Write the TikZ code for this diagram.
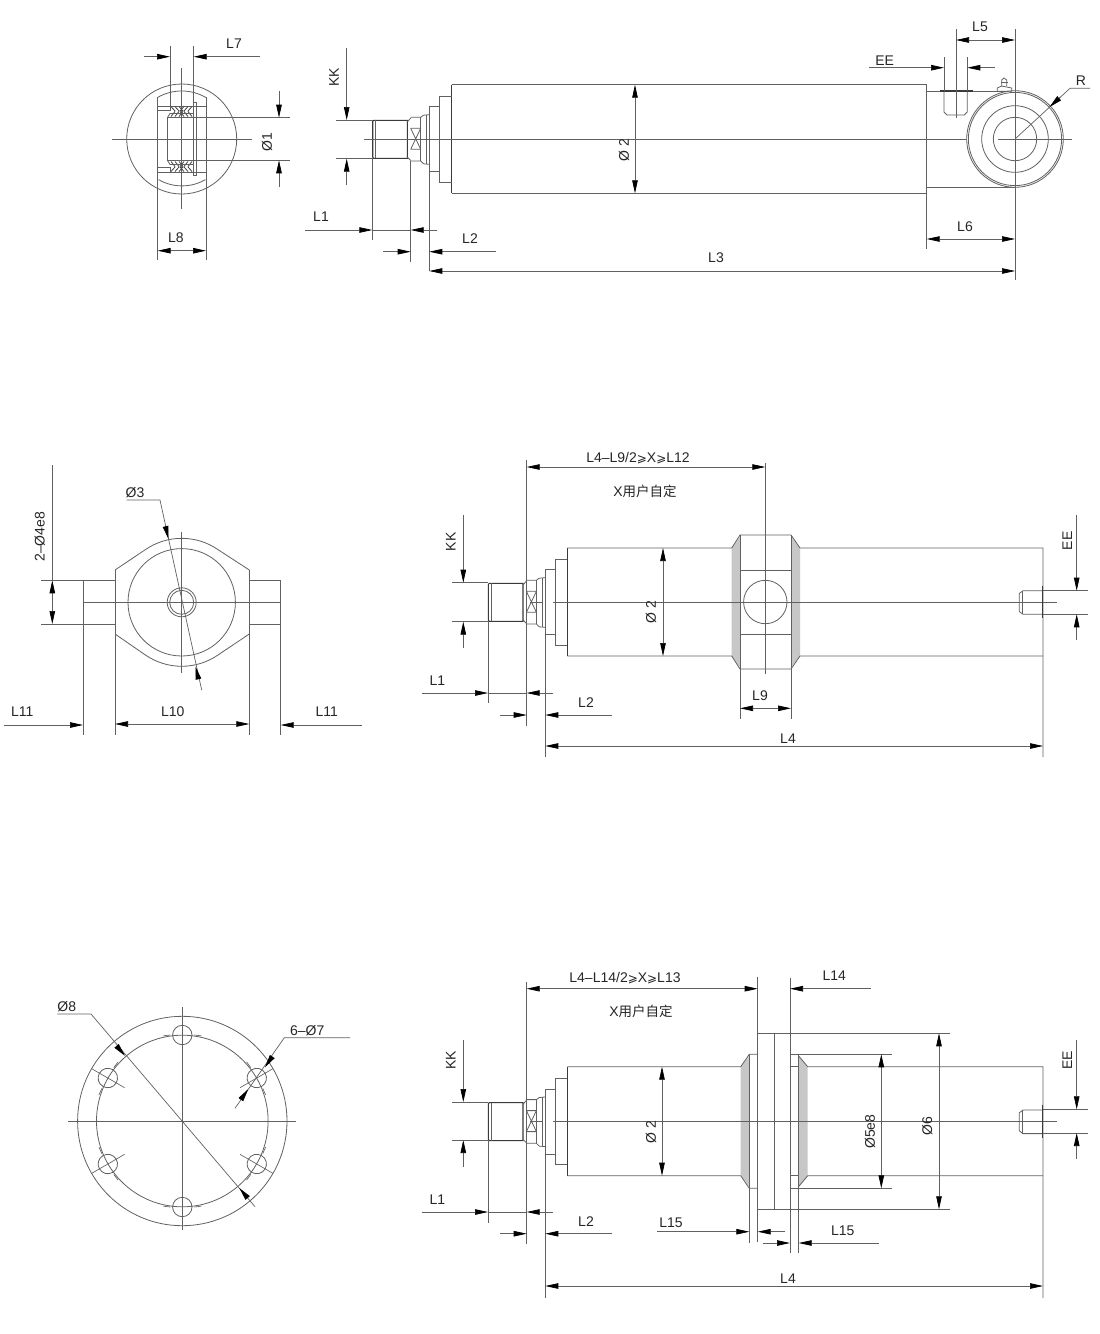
\documentclass[tikz,border=0pt]{standalone}
\usepackage{fontspec}
\setmainfont{Liberation Sans}
\newfontfamily\cjkfont{Noto Sans CJK SC}
\newfontfamily\mathsymfont{DejaVu Sans}
\usetikzlibrary{arrows.meta}
\definecolor{ln}{gray}{0.38}
\definecolor{txt}{gray}{0.15}
\definecolor{band}{gray}{0.78}
\tikzset{
  part/.style={draw=ln,line width=.8pt},
  heavy/.style={draw=ln!60!black,line width=1.3pt},
  thin line/.style={draw=ln,line width=.65pt},
  dimline/.style={draw=ln,line width=.7pt},
  dimhead/.style={Triangle[length=13pt,width=5.5pt,color=black]},
  dimboth/.style={dimline,{Triangle[length=13pt,width=5.5pt,color=black]}-{Triangle[length=13pt,width=5.5pt,color=black]}},
  dimend/.style={dimline,-{Triangle[length=13pt,width=5.5pt,color=black]}},
  lab/.style={text=txt,inner sep=0pt,font=\fontsize{14}{16}\selectfont},
  labv/.style={lab,rotate=90},
}
\newcommand{\gez}{{\mathsymfont\fontsize{12}{14}\selectfont ⩾}}
% rod end, in the coordinates of the upper view
\newcommand{\rodend}{%
  \draw[heavy] (451.5,84.7) -- (451.5,193.3);
  \draw[part] (439.3,96) -- (451.5,96) (439.3,182.3) -- (451.5,182.3) (439.3,96) -- (439.3,182.3);
  \draw[part] (429.3,106.7) -- (439.3,106.7) (429.3,171.7) -- (439.3,171.7) (429.3,106.7) -- (429.3,171.7);
  \draw[part] (410.7,117.3) -- (420.7,117.3) -- (423.5,115.2) -- (429.3,114.7);
  \draw[part] (410.7,161) -- (420.7,161) -- (423.5,163.8) -- (429.3,164.3);
  \draw[part] (420.7,117.3) -- (420.7,161) (426.7,115) -- (426.7,164);
  \draw[part] (410.7,128.3) -- (420.7,128.3) (410.7,149.3) -- (420.7,149.3)
              (410.7,128.3) -- (420.7,149.3) (420.7,128.3) -- (410.7,149.3);
  \draw[heavy,line width=1.1pt] (407.3,120.3) -- (373.5,120.3) -- (372.7,121.5) -- (372.7,157) -- (373.5,158.3) -- (407.3,158.3) -- cycle;
  \draw[part] (375.2,120.3) -- (375.2,158.3);
  \draw[part] (407.3,122) -- (410.7,118) (407.3,157) -- (410.7,160.5);
}
% port on the right end, centred on y=602
\newcommand{\portend}{%
  \draw[part] (1042.3,590.7) -- (1023,590.7) -- (1019.3,593.5) -- (1019.3,611.5) -- (1023,614.3) -- (1042.3,614.3);
  \draw[part] (1022.5,590.7) -- (1022.5,614.3);
  \draw[heavy,line width=1.6pt] (1042.3,585.7) -- (1042.3,618.3);
}
\begin{document}
\begin{tikzpicture}[x=1pt,y=-1pt]
\useasboundingbox (0,0) rectangle (1100,1334);
\fill[white] (0,0) rectangle (1100,1334);

%% ===== top-left end view =====
\draw[part] (181.7,139) circle (55);
\draw[part] (157.7,97.4) arc[start angle=-120,end angle=-60,radius=48];
\draw[part] (158.5,179.6) arc[start angle=120,end angle=60,radius=47];
\draw[thin line] (157.7,97.4) -- (157.7,260) (206,97.4) -- (206,260);
\draw[thin line] (181.7,68) -- (181.7,209) (111.5,139) -- (252,139);
\draw[part] (167.3,117.7) rectangle (196.7,160.3);
\draw[part] (157.7,106) -- (206,106) (157.7,172) -- (206,172);
\draw[part] (157.7,110.7) -- (170,110.7) (157.7,167.3) -- (170,167.3);
\draw[part] (193.7,102.7) rectangle (196,175);
\draw[part] (170,106) -- (170,110.7) (170,167.3) -- (170,172);
\foreach \xx in {171,175,179}{
  \pgfmathsetmacro{\xa}{\xx+4}
  \draw[draw=ln!70!black,line width=.8pt] (\xx,106.5) -- (\xa,111) (\xx,171.5) -- (\xa,167)
     (\xx,116.5) -- (\xa,111.5) (\xx,161.5) -- (\xa,166.5);
}
\foreach \xx in {184,188,192}{
  \pgfmathsetmacro{\xa}{\xx-4}
  \draw[draw=ln!70!black,line width=.8pt] (\xx,106.5) -- (\xa,111) (\xx,171.5) -- (\xa,167)
     (\xx,116.5) -- (\xa,111.5) (\xx,161.5) -- (\xa,166.5);
}
\draw[part] (167.3,117.7) -- (170,113.5) -- (193.7,113.5) (167.3,160.3) -- (170,164.5) -- (193.7,164.5);
\draw[thin line] (170,46) -- (170,106) (193.7,46) -- (193.7,102.7);
\draw[dimend] (143.7,56.7) -- (170,56.7);
\draw[dimend] (260,56.7) -- (193.7,56.7);
\node[lab] (tL7) at (234,44) {L7};
\draw[thin line] (197,117.7) -- (290,117.7) (197,160.3) -- (290,160.3);
\draw[dimend] (279,91) -- (279,117.7);
\draw[dimend] (279,187) -- (279,160.3);
\node[labv] (tD1) at (267,141.7) {Ø1};
\draw[dimboth] (157.7,250.7) -- (206,250.7);
\node[lab] (tL8) at (176,238) {L8};

%% ===== top main view =====
\rodend
\draw[part] (451.5,84.7) -- (926.7,84.7) -- (926.7,249);
\draw[part] (451.5,193.3) -- (926.7,193.3);
\draw[part] (926.7,91) -- (1015,91) (926.7,187) -- (1015,187);
\draw[thin line] (364,139) -- (1072,139);
\fill[white] (1015,139) circle (48.3);
\draw[part] (1015,139) circle (48.3) (1015,139) circle (46.6) (1015,139) circle (33.3) (1015,139) circle (21.7);
\draw[thin line] (998,139) -- (1072,139);
\draw[thin line] (1015,29) -- (1015,280);
% port
\draw[part] (944,91) -- (944,112) -- (947,115) -- (964.3,115) -- (967.3,112) -- (967.3,91);
\draw[heavy] (940,91) -- (972.7,91);
\draw[thin line] (956,29) -- (956,117.7);
\draw[thin line] (944,57) -- (944,91) (967.3,57) -- (967.3,91);
\draw[dimend] (869.3,67.7) -- (944,67.7);
\draw[dimend] (994.7,67.7) -- (967.3,67.7);
\node[lab] (tEEa) at (884.7,61) {EE};
\draw[dimboth] (956,40) -- (1015,40);
\node[lab] (tL5) at (980,27) {L5};
% grease nipple
\draw[part] (997.3,91.2) -- (997.3,88) -- (1001.7,86) -- (1011.7,88) -- (1011.7,91.2) -- cycle;
\draw[part] (1001.7,86) -- (1001.7,80) -- (1004,78) -- (1006.7,80) -- (1006.7,86);
\draw[part] (1001,82.5) -- (1007.5,82.5);
% R leader
\coordinate (Rc) at (1015,139);
\coordinate (Ra) at (1070,88.3);
\draw[dimline] (Rc) -- (Ra) -- (1090,88.3);
\draw[dimend] (1060.5,97) -- (1049.5,107);
\node[lab] (tR) at (1081,80.7) {R};
\draw[dimboth] (926.7,239) -- (1015,239);
\node[lab] (tL6) at (965,226.7) {L6};
\draw[dimboth] (429.3,271) -- (1015,271);
\node[lab] (tL3) at (716,258) {L3};
\draw[dimboth] (635,84.7) -- (635,193.3);
\node[labv] (tD2a) at (624,150) {Ø 2};
% KK
\draw[dimend] (346.7,48) -- (346.7,120);
\draw[dimend] (346.7,185) -- (346.7,158.7);
\draw[thin line] (336,120) -- (372.7,120) (336,158.7) -- (372.7,158.7);
\node[labv] (tKKa) at (334,77) {KK};
% L1 L2
\draw[thin line] (372.3,158.3) -- (372.3,240) (410.7,161) -- (410.7,262) (429.3,171.7) -- (429.3,271);
\draw[dimline] (372.3,230) -- (410.7,230);
\draw[dimend] (305,230) -- (372.3,230);
\draw[dimend] (437,230) -- (410.7,230);
\node[lab] (tL1a) at (321,217) {L1};
\draw[dimend] (383,251.7) -- (410.7,251.7);
\draw[dimend] (496,251.7) -- (429.3,251.7);
\node[lab] (tL2a) at (470,239) {L2};

%% ===== middle left end view =====
\draw[part] (181.7,602.3) circle (53.7);
\draw[part] (181.7,602.3) circle (14.5) (181.7,602.3) circle (12);
\draw[part] (115,570) -- (145,549.9) arc[start angle=-125,end angle=-55,radius=64] -- (249.3,570);
\draw[part] (115,634) -- (145,654.7) arc[start angle=125,end angle=55,radius=64] -- (249.3,634);
\draw[part] (115,570) -- (115,735) (249.3,570) -- (249.3,735);
\draw[part] (41.3,580.3) -- (115,580.3) (41.3,624) -- (115,624);
\draw[part] (249.3,580.3) -- (280.7,580.3) -- (280.7,735) (249.3,624) -- (280.7,624);
\draw[part] (83,580.3) -- (83,735);
\draw[thin line] (83,602.3) -- (280.7,602.3);
\draw[thin line] (181.7,531.7) -- (181.7,672.7);
\draw[dimline] (52.3,465) -- (52.3,580.3);
\draw[dimboth] (52.3,580.3) -- (52.3,624);
\node[labv] (tD4) at (39.7,536.7) {2–Ø4e8};
\coordinate (Da) at (160,500);
\coordinate (Db) at (201.7,690);
\draw[dimline] (126.7,500) -- (Da) -- (Db);
\draw[dimend] (165.6,526.7) -- (168.5,539);
\draw[dimend] (198.2,678) -- (195.5,666.5);
\node[lab] (tD3) at (135,492.7) {Ø3};
\draw[dimboth] (115,724) -- (249.3,724);
\node[lab] (tL10) at (172.7,711.7) {L10};
\draw[dimend] (4,725) -- (83,725);
\node[lab] (tL11a) at (22.3,712) {L11};
\draw[dimend] (361.7,725) -- (280.7,725);
\node[lab] (tL11b) at (326.7,712) {L11};

%% ===== middle main view =====
\begin{scope}[shift={(115.7,463)}]\rodend\end{scope}
\fill[band] (740,536.5) -- (731.7,548) -- (731.7,656) -- (740,667.5) -- cycle;
\fill[band] (791,536.5) -- (800,548) -- (800,656) -- (791,667.5) -- cycle;
\draw[part] (567.3,548) -- (731.7,548) -- (740,535) -- (791,535) -- (800,548) -- (1043,548) -- (1043,757);
\draw[part] (567.3,656) -- (731.7,656) -- (740,669) -- (791,669) -- (800,656) -- (1043,656);
\draw[part] (740,535) -- (740,718.7) (791,535) -- (791,718.7);
\draw[part] (740,570) -- (791,570) (740,634.7) -- (791,634.7);
\draw[part] (765.3,602) circle (21.7);
\draw[thin line] (553,602) -- (1056.7,602) (530,602) -- (543,602);
\draw[thin line] (765.3,463) -- (765.3,674.3);
\portend
\draw[thin line] (526.7,460) -- (526.7,725.7) (545.3,635) -- (545.3,757) (488,621) -- (488,703);
\draw[dimboth] (526.7,467) -- (765.3,467);
\node[lab] (tXa) at (638,458) {L4–L9/2\gez X\gez L12};
\node[lab] (tXb) at (645,491) {X{\cjkfont\fontsize{13.5}{15}\selectfont 用户自定}};
\draw[dimend] (463.3,515) -- (463.3,582.7);
\draw[dimend] (463.3,648) -- (463.3,621.7);
\draw[thin line] (452.3,582.7) -- (488.3,582.7) (452.3,621.7) -- (488.3,621.7);
\node[labv] (tKKb) at (450.7,541.7) {KK};
\draw[dimline] (488,693) -- (526.7,693);
\draw[dimend] (421.7,693) -- (488,693);
\draw[dimend] (553.3,693) -- (526.7,693);
\node[lab] (tL1b) at (437.3,680.7) {L1};
\draw[dimend] (500,715) -- (526.7,715);
\draw[dimend] (612.3,715) -- (545.3,715);
\node[lab] (tL2b) at (586,702.3) {L2};
\draw[dimboth] (545.3,746) -- (1043,746);
\node[lab] (tL4a) at (788,738.3) {L4};
\draw[dimboth] (740,708.3) -- (791,708.3);
\node[lab] (tL9) at (760,695.7) {L9};
\draw[dimboth] (663,548) -- (663,656);
\node[labv] (tD2b) at (651,612) {Ø 2};
\draw[thin line] (1043,590.7) -- (1087.7,590.7) (1043,614.3) -- (1087.7,614.3);
\draw[dimend] (1076.7,515) -- (1076.7,590.7);
\draw[dimend] (1076.7,640) -- (1076.7,614.3);
\node[labv] (tEEb) at (1067.3,540.7) {EE};

%% ===== bottom left flange view =====
\draw[part] (182.3,1121) circle (104.7) (182.3,1121) circle (85.8);
\draw[thin line] (182.3,1007.3) -- (182.3,1230) (68.3,1121) -- (296,1121);
\foreach \a in {30,90,150,210,270,330}{
  \begin{scope}[shift={(182.3,1121)},rotate=\a]
    \draw[part] (86,0) circle (9.7);
    \draw[thin line] (66.6,0) -- (104.7,0);
    \draw[thin line] (85.2,-19) -- (86,-12) (86,12) -- (85.2,19);
  \end{scope}
}
\coordinate (Ea) at (91,1014);
\coordinate (Eb) at (255,1206.7);
\draw[dimline] (57.3,1014) -- (Ea) -- (Eb);
\draw[dimend] (116.5,1045.8) -- (125,1055.8);
\draw[dimend] (247.7,1198) -- (239.3,1188);
\node[lab] (tD8) at (66.7,1006.7) {Ø8};
\coordinate (Fa) at (284.3,1037.7);
\coordinate (Fb) at (235,1108.3);
\draw[dimline] (350,1037.7) -- (Fa) -- (Fb);
\draw[dimend] (272,1057) -- (265,1067.3);
\draw[dimend] (241.3,1099) -- (248.3,1089);
\node[lab] (tD7) at (307.3,1030.7) {6–Ø7};

%% ===== bottom main view =====
\begin{scope}[shift={(115.7,982.3)}]\rodend\end{scope}
\fill[band] (749.3,1056) -- (740.7,1066.7) -- (740.7,1175.7) -- (749.3,1186.5) -- cycle;
\fill[band] (798.7,1056) -- (807.7,1066.7) -- (807.7,1175.7) -- (798.7,1186.5) -- cycle;
\draw[part] (567.3,1066.7) -- (740.7,1066.7) -- (749.3,1054.3) -- (757.7,1054.3);
\draw[part] (567.3,1175.7) -- (740.7,1175.7) -- (749.3,1188.3) -- (757.7,1188.3);
\draw[part] (790,1054.3) -- (892,1054.3) (790,1188.3) -- (892,1188.3);
\draw[part] (798.7,1056) -- (807.7,1066.7) -- (1043,1066.7) -- (1043,1298);
\draw[part] (798.7,1186.5) -- (807.7,1175.7) -- (1043,1175.7);
\draw[part] (790,1066.7) -- (798.7,1066.7) (790,1175.7) -- (798.7,1175.7);
\draw[part] (757.7,977.3) -- (757.7,1241.7) (790,978.3) -- (790,1253.3);
\draw[part] (749.3,1054.3) -- (749.3,1242.7) (798.7,1054.3) -- (798.7,1253.3);
\draw[part] (774,1033.3) -- (774,1209.3);
\draw[part] (757.7,1033.3) -- (950,1033.3) (757.7,1209.3) -- (950,1209.3);
\draw[thin line] (553,1121.3) -- (1056.7,1121.3) (530,1121.3) -- (543,1121.3);
\begin{scope}[shift={(0,519.3)}]\portend\end{scope}
\draw[thin line] (526.7,982) -- (526.7,1244.3) (545.3,1154) -- (545.3,1298) (488,1140) -- (488,1222.7);
\draw[dimboth] (526.7,988.7) -- (757.7,988.7);
\node[lab] (tXc) at (625,978) {L4–L14/2\gez X\gez L13};
\node[lab] (tXd) at (641,1011) {X{\cjkfont\fontsize{13.5}{15}\selectfont 用户自定}};
\draw[dimend] (870.7,988.7) -- (790,988.7);
\node[lab] (tL14) at (834.3,976) {L14};
\draw[dimend] (463.3,1040) -- (463.3,1102);
\draw[dimend] (463.3,1167) -- (463.3,1140);
\draw[thin line] (452.3,1102) -- (488.3,1102) (452.3,1140) -- (488.3,1140);
\node[labv] (tKKc) at (450.7,1060) {KK};
\draw[dimline] (488,1212) -- (526.7,1212);
\draw[dimend] (421.7,1212) -- (488,1212);
\draw[dimend] (553.3,1212) -- (526.7,1212);
\node[lab] (tL1c) at (437.3,1200) {L1};
\draw[dimend] (500,1233.7) -- (526.7,1233.7);
\draw[dimend] (612.3,1233.7) -- (545.3,1233.7);
\node[lab] (tL2c) at (586,1222) {L2};
\draw[dimboth] (545.3,1286) -- (1043,1286);
\node[lab] (tL4b) at (788,1279) {L4};
\draw[dimboth] (662,1066.7) -- (662,1175.7);
\node[labv] (tD2c) at (651,1132) {Ø 2};
\draw[dimboth] (881.3,1054.3) -- (881.3,1188.3);
\node[labv] (tD5) at (870,1131.7) {Ø5e8};
\draw[dimboth] (939,1033.3) -- (939,1209.3);
\node[labv] (tD6) at (927.3,1125.7) {Ø6};
\draw[dimend] (657,1231.7) -- (749.3,1231.7);
\draw[dimend] (785,1231.7) -- (757.7,1231.7);
\node[lab] (tL15a) at (671,1223) {L15};
\draw[dimend] (763.3,1243) -- (790,1243);
\draw[dimend] (879,1243) -- (798.7,1243);
\node[lab] (tL15b) at (842.7,1230.7) {L15};
\draw[thin line] (1043,1109.3) -- (1087.7,1109.3) (1043,1133) -- (1087.7,1133);
\draw[dimend] (1076.7,1040) -- (1076.7,1109.3);
\draw[dimend] (1076.7,1159.3) -- (1076.7,1133);
\node[labv] (tEEc) at (1067.3,1060) {EE};
\end{tikzpicture}
\end{document}
